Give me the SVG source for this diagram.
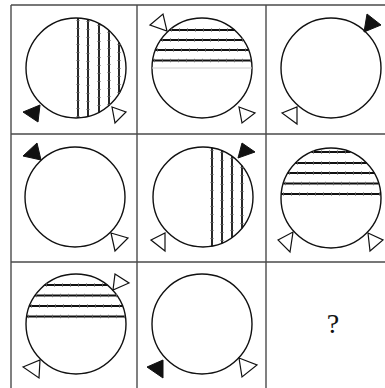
<svg xmlns="http://www.w3.org/2000/svg" width="385" height="388" viewBox="0 0 385 388">
<style>
.grid{stroke:#4a4a4a;stroke-width:1.4;fill:none}
.c{fill:#fff;stroke:#111;stroke-width:1.4}
.h{stroke:#111;stroke-width:1.8}
.t{stroke:#666;stroke-width:3.5;stroke-dasharray:0.8 7.2}
.faint{stroke:#ccc;stroke-width:1}
.bk{fill:#111;stroke:#111;stroke-width:1}
.wt{fill:#fff;stroke:#111;stroke-width:1.2;stroke-linejoin:miter}
.q{font-family:"Liberation Serif",serif;font-size:28px;fill:#111;text-anchor:middle}
</style>
<rect width="385" height="388" fill="#fff"/>
<g id="grid">
<line class="grid" x1="11" y1="5" x2="385" y2="5"/>
<line class="grid" x1="11" y1="134" x2="385" y2="134"/>
<line class="grid" x1="11" y1="262" x2="385" y2="262"/>
<line class="grid" x1="11" y1="5" x2="11" y2="388"/>
<line class="grid" x1="137" y1="5" x2="137" y2="388"/>
<line class="grid" x1="266" y1="5" x2="266" y2="388"/>
</g>
<g id="cell-1-1">
<circle class="c" cx="76" cy="68" r="50"/>
<g class="h">
<line x1="78" y1="18" x2="78" y2="118"/>
<line x1="88" y1="19.5" x2="88" y2="116.5"/>
<line x1="99" y1="23.6" x2="99" y2="112.4"/>
<line x1="109" y1="30.4" x2="109" y2="105.6"/>
<line x1="119" y1="42.5" x2="119" y2="93.5"/>
</g>
<g class="t">
<line x1="78" y1="20" x2="78" y2="117"/>
<line x1="88" y1="21" x2="88" y2="116"/>
<line x1="99" y1="25" x2="99" y2="112"/>
<line x1="109" y1="32" x2="109" y2="105"/>
<line x1="119" y1="44" x2="119" y2="93"/>
</g>
<polygon class="bk" points="23,112 40,105 38,122"/>
<polygon class="wt" points="112,107 126,112 115,123"/>
</g>
<g id="cell-1-2">
<circle class="c" cx="202" cy="68" r="50"/>
<line class="faint" x1="152" y1="68" x2="252" y2="68"/>
<g class="h">
<line x1="169.5" y1="30" x2="234.5" y2="30"/>
<line x1="160.6" y1="40" x2="243.4" y2="40"/>
<line x1="155.4" y1="50" x2="248.6" y2="50"/>
<line x1="152.6" y1="60.5" x2="251.4" y2="60.5"/>
</g>
<g class="t">
<line x1="171" y1="30" x2="234" y2="30"/>
<line x1="162" y1="40" x2="243" y2="40"/>
<line x1="157" y1="50" x2="248" y2="50"/>
<line x1="154" y1="60.5" x2="251" y2="60.5"/>
</g>
<polygon class="wt" points="150,25 163,14 167,31"/>
<polygon class="wt" points="239,107 255,113 242,123"/>
</g>
<g id="cell-1-3">
<circle class="c" cx="331" cy="68" r="50"/>
<polygon class="bk" points="367,14 381,25 364,32"/>
<polygon class="wt" points="282,113 297,107 297,124"/>
</g>
<g id="cell-2-1">
<circle class="c" cx="75" cy="197" r="50"/>
<polygon class="bk" points="23,156 37,143 41,160"/>
<polygon class="wt" points="111,233 128,238 115,251"/>
</g>
<g id="cell-2-2">
<circle class="c" cx="203" cy="197" r="50"/>
<g class="h">
<line x1="212" y1="147.8" x2="212" y2="246.2"/>
<line x1="222" y1="150.8" x2="222" y2="243.2"/>
<line x1="232" y1="156.3" x2="232" y2="237.7"/>
<line x1="242" y1="165.7" x2="242" y2="228.3"/>
</g>
<g class="t">
<line x1="212" y1="150" x2="212" y2="245"/>
<line x1="222" y1="152" x2="222" y2="242"/>
<line x1="232" y1="158" x2="232" y2="237"/>
<line x1="242" y1="167" x2="242" y2="228"/>
</g>
<polygon class="bk" points="238,158 242,143 255,152"/>
<polygon class="wt" points="151,240 165,233 165,251"/>
</g>
<g id="cell-2-3">
<circle class="c" cx="331" cy="198" r="50"/>
<g class="h">
<line x1="311.4" y1="152" x2="350.6" y2="152"/>
<line x1="295.3" y1="163" x2="366.7" y2="163"/>
<line x1="287.7" y1="173" x2="374.3" y2="173"/>
<line x1="283.2" y1="183.5" x2="378.8" y2="183.5"/>
<line x1="281.2" y1="194" x2="380.8" y2="194"/>
</g>
<g class="t">
<line x1="313" y1="152" x2="350" y2="152"/>
<line x1="297" y1="163" x2="366" y2="163"/>
<line x1="289" y1="173" x2="374" y2="173"/>
<line x1="285" y1="183.5" x2="378" y2="183.5"/>
<line x1="283" y1="194" x2="380" y2="194"/>
</g>
<polygon class="wt" points="278,240 293,232 290,252"/>
<polygon class="wt" points="368,233 383,240 370,251"/>
</g>
<g id="cell-3-1">
<circle class="c" cx="76" cy="324" r="50"/>
<g class="h">
<line x1="44.7" y1="285" x2="107.3" y2="285"/>
<line x1="34.9" y1="295.5" x2="117.1" y2="295.5"/>
<line x1="29.4" y1="306" x2="122.6" y2="306"/>
<line x1="26.6" y1="316.5" x2="125.4" y2="316.5"/>
</g>
<g class="t">
<line x1="46" y1="285" x2="107" y2="285"/>
<line x1="36" y1="295.5" x2="117" y2="295.5"/>
<line x1="31" y1="306" x2="122" y2="306"/>
<line x1="28" y1="316.5" x2="125" y2="316.5"/>
</g>
<polygon class="wt" points="113,290 115,274 129,283"/>
<polygon class="wt" points="23,367 40,360 39,378"/>
</g>
<g id="cell-3-2">
<circle class="c" cx="202" cy="324" r="50"/>
<polygon class="bk" points="147,367 163,360 163,378"/>
<polygon class="wt" points="239,358 257,365 242,377"/>
</g>
<g id="cell-3-3">
<text class="q" x="333" y="333">?</text>
</g>
</svg>
